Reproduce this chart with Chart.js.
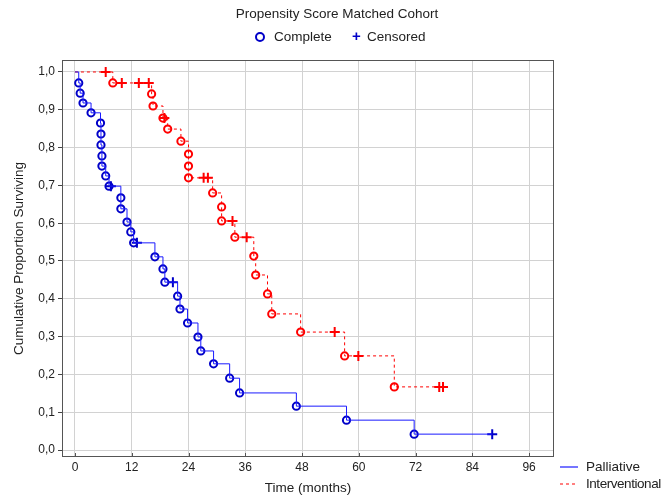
<!DOCTYPE html>
<html>
<head>
<meta charset="utf-8">
<script src="https://cdn.jsdelivr.net/npm/chart.js@4"></script>
<style>
  html, body { margin: 0; padding: 0; background: #fff; }
  #wrap { position: relative; width: 664px; height: 496px; font-family: "Liberation Sans", Arial, sans-serif; color: #222; overflow: hidden; }
  canvas { position: absolute; left: 0; top: 0; }
  .txt { position: absolute; font-size: 13.5px; white-space: nowrap; }
  .circ { position: absolute; width: 6px; height: 6px; border: 2px solid #0000c8; border-radius: 50%; }
  .plus { position: absolute; color: #0000c8; font-weight: bold; font-size: 15px; }
  svg.sw { position: absolute; width: 20px; height: 4px; }
</style>
</head>
<body>
<div id="wrap">
  <canvas id="km" width="664" height="496"></canvas>
  <div class="txt" style="left:0;width:674px;top:6px;text-align:center;">Propensity Score Matched Cohort</div>
  <div class="circ" style="left:255px;top:32px;"></div>
  <div class="txt" style="left:274px;top:29px;">Complete</div>
  <div class="plus" style="left:352px;top:27px;">+</div>
  <div class="txt" style="left:367px;top:29px;">Censored</div>
  <svg class="sw" style="left:560px;top:465px;" viewBox="0 0 20 4"><line x1="0" y1="2" x2="18" y2="2" stroke="#1a1aff" stroke-width="1.2"/></svg>
  <div class="txt" style="left:586px;top:459px;">Palliative</div>
  <svg class="sw" style="left:560px;top:482px;" viewBox="0 0 20 4"><line x1="0" y1="2" x2="18" y2="2" stroke="#ff0000" stroke-width="1.2" stroke-dasharray="3 3"/></svg>
  <div class="txt" style="left:586px;top:476px;letter-spacing:-0.45px;">Interventional</div>
</div>
<script>
// Palliative group (blue, solid)
const palliativeEventTimes = [0.8, 1.1, 1.7, 3.4, 5.4, 5.5, 5.5, 5.7, 5.7, 6.5, 7.2, 9.7, 9.7, 11.0, 11.8, 12.4, 16.9, 18.6, 19.0, 21.7, 22.2, 23.8, 26.0, 26.6, 29.3, 32.7, 34.8, 46.8, 57.4, 71.7];
const palliativeEventSurv = [0.971, 0.944, 0.918, 0.892, 0.865, 0.836, 0.807, 0.778, 0.751, 0.725, 0.698, 0.667, 0.638, 0.603, 0.577, 0.548, 0.511, 0.479, 0.444, 0.407, 0.373, 0.336, 0.299, 0.262, 0.228, 0.190, 0.151, 0.116, 0.079, 0.042];
const palliativeCensorTimes = [7.6, 13.1, 20.7, 88.2];
const palliativeCensorSurv = [0.698, 0.548, 0.444, 0.042];

// Interventional group (red, dashed)
const interventionalEventTimes = [8.0, 16.2, 16.5, 18.6, 19.6, 22.4, 24.0, 24.0, 24.0, 29.1, 31.0, 31.0, 33.8, 37.8, 38.2, 40.7, 41.6, 47.7, 57.0, 67.5];
const interventionalEventSurv = [0.971, 0.942, 0.910, 0.878, 0.849, 0.817, 0.783, 0.751, 0.720, 0.680, 0.643, 0.606, 0.563, 0.513, 0.463, 0.413, 0.360, 0.312, 0.249, 0.167];
const interventionalCensorTimes = [6.5, 9.9, 13.5, 15.6, 18.9, 27.2, 28.1, 33.3, 36.3, 54.9, 59.9, 77.0, 77.8];
const interventionalCensorSurv = [1.0, 0.971, 0.971, 0.971, 0.878, 0.720, 0.720, 0.606, 0.563, 0.312, 0.249, 0.167, 0.167];

const xTicks = [0, 12, 24, 36, 48, 60, 72, 84, 96];
const yTicks = [0, 0.1, 0.2, 0.3, 0.4, 0.5, 0.6, 0.7, 0.8, 0.9, 1.0];

const BLUE = '#0000c8';
const BLUE_LINE = '#1a1aff';
const RED = '#ff0000';

function pts(xs, ys) {
  return xs.map((x, i) => ({ x: x, y: ys[i] }));
}

// step curve: start at 1.0, then every event and censor in time order
function curve(et, es, ct, cs) {
  const all = pts(et, es).concat(pts(ct, cs));
  all.sort((a, b) => a.x - b.x || b.y - a.y);
  return [{ x: 0, y: 1 }].concat(all);
}

const frame = {
  id: 'frame',
  afterDraw(chart) {
    const { ctx, chartArea: a } = chart;
    const xs = chart.scales.x;
    ctx.save();
    ctx.strokeStyle = '#555';
    ctx.lineWidth = 1;
    ctx.strokeRect(a.left + 0.5, a.top + 0.5, a.right - a.left - 1, a.bottom - a.top - 1);
    ctx.beginPath();
    xTicks.forEach(t => {
      const px = Math.round(xs.getPixelForValue(t)) + 0.5;
      ctx.moveTo(px, a.bottom);
      ctx.lineTo(px, a.bottom - 4);
    });
    ctx.stroke();
    ctx.restore();
  }
};

const tickFont = { family: '"Liberation Sans Narrow", "Liberation Sans", Arial, sans-serif', size: 12 };
const titleFont = { family: '"Liberation Sans", Arial, sans-serif', size: 13.5 };

new Chart(document.getElementById('km'), {
  type: 'scatter',
  data: {
    datasets: [
      {
        type: 'line',
        data: curve(palliativeEventTimes, palliativeEventSurv, palliativeCensorTimes, palliativeCensorSurv),
        stepped: 'before',
        borderColor: BLUE_LINE,
        borderWidth: 1,
        pointRadius: 0,
        fill: false
      },
      {
        type: 'line',
        data: curve(interventionalEventTimes, interventionalEventSurv, interventionalCensorTimes, interventionalCensorSurv),
        stepped: 'before',
        borderColor: RED,
        borderWidth: 1,
        borderDash: [3, 3],
        pointRadius: 0,
        fill: false
      },
      {
        data: pts(palliativeEventTimes, palliativeEventSurv),
        pointStyle: 'circle',
        pointRadius: 3.6,
        pointBorderWidth: 2,
        pointBorderColor: BLUE,
        pointBackgroundColor: 'rgba(0,0,0,0)'
      },
      {
        data: pts(palliativeCensorTimes, palliativeCensorSurv),
        pointStyle: 'cross',
        pointRadius: 5,
        pointBorderWidth: 2,
        pointBorderColor: BLUE
      },
      {
        data: pts(interventionalEventTimes, interventionalEventSurv),
        pointStyle: 'circle',
        pointRadius: 3.6,
        pointBorderWidth: 2,
        pointBorderColor: RED,
        pointBackgroundColor: 'rgba(0,0,0,0)'
      },
      {
        data: pts(interventionalCensorTimes, interventionalCensorSurv),
        pointStyle: 'cross',
        pointRadius: 5,
        pointBorderWidth: 2,
        pointBorderColor: RED
      }
    ]
  },
  options: {
    responsive: false,
    animation: false,
    layout: { padding: { left: 11, right: 110, top: 60, bottom: 0 } },
    plugins: { legend: { display: false }, tooltip: { enabled: false } },
    scales: {
      x: {
        type: 'linear',
        min: -2.74,
        max: 101.26,
        afterBuildTicks: s => { s.ticks = xTicks.map(v => ({ value: v })); },
        afterFit: s => { s.height = 39; },
        grid: { color: '#d2d2d2', drawTicks: false },
        border: { display: false },
        ticks: { color: '#222', font: tickFont, padding: 3, maxRotation: 0 },
        title: { display: true, text: 'Time (months)', color: '#222', font: titleFont, padding: { top: 3, bottom: 0 } }
      },
      y: {
        type: 'linear',
        min: -0.0185,
        max: 1.0317,
        afterBuildTicks: s => { s.ticks = yTicks.map(v => ({ value: v })); },
        afterFit: s => { s.width = 51; },
        grid: { color: '#d2d2d2', tickColor: '#444', tickLength: 4 },
        border: { display: false },
        ticks: { color: '#222', font: tickFont, padding: 3, callback: v => v.toFixed(1).replace('.', ',') },
        title: { display: true, text: 'Cumulative Proportion Surviving', color: '#222', font: titleFont, padding: { top: 0, bottom: 2 } }
      }
    }
  },
  plugins: [frame]
});
</script>
</body>
</html>
